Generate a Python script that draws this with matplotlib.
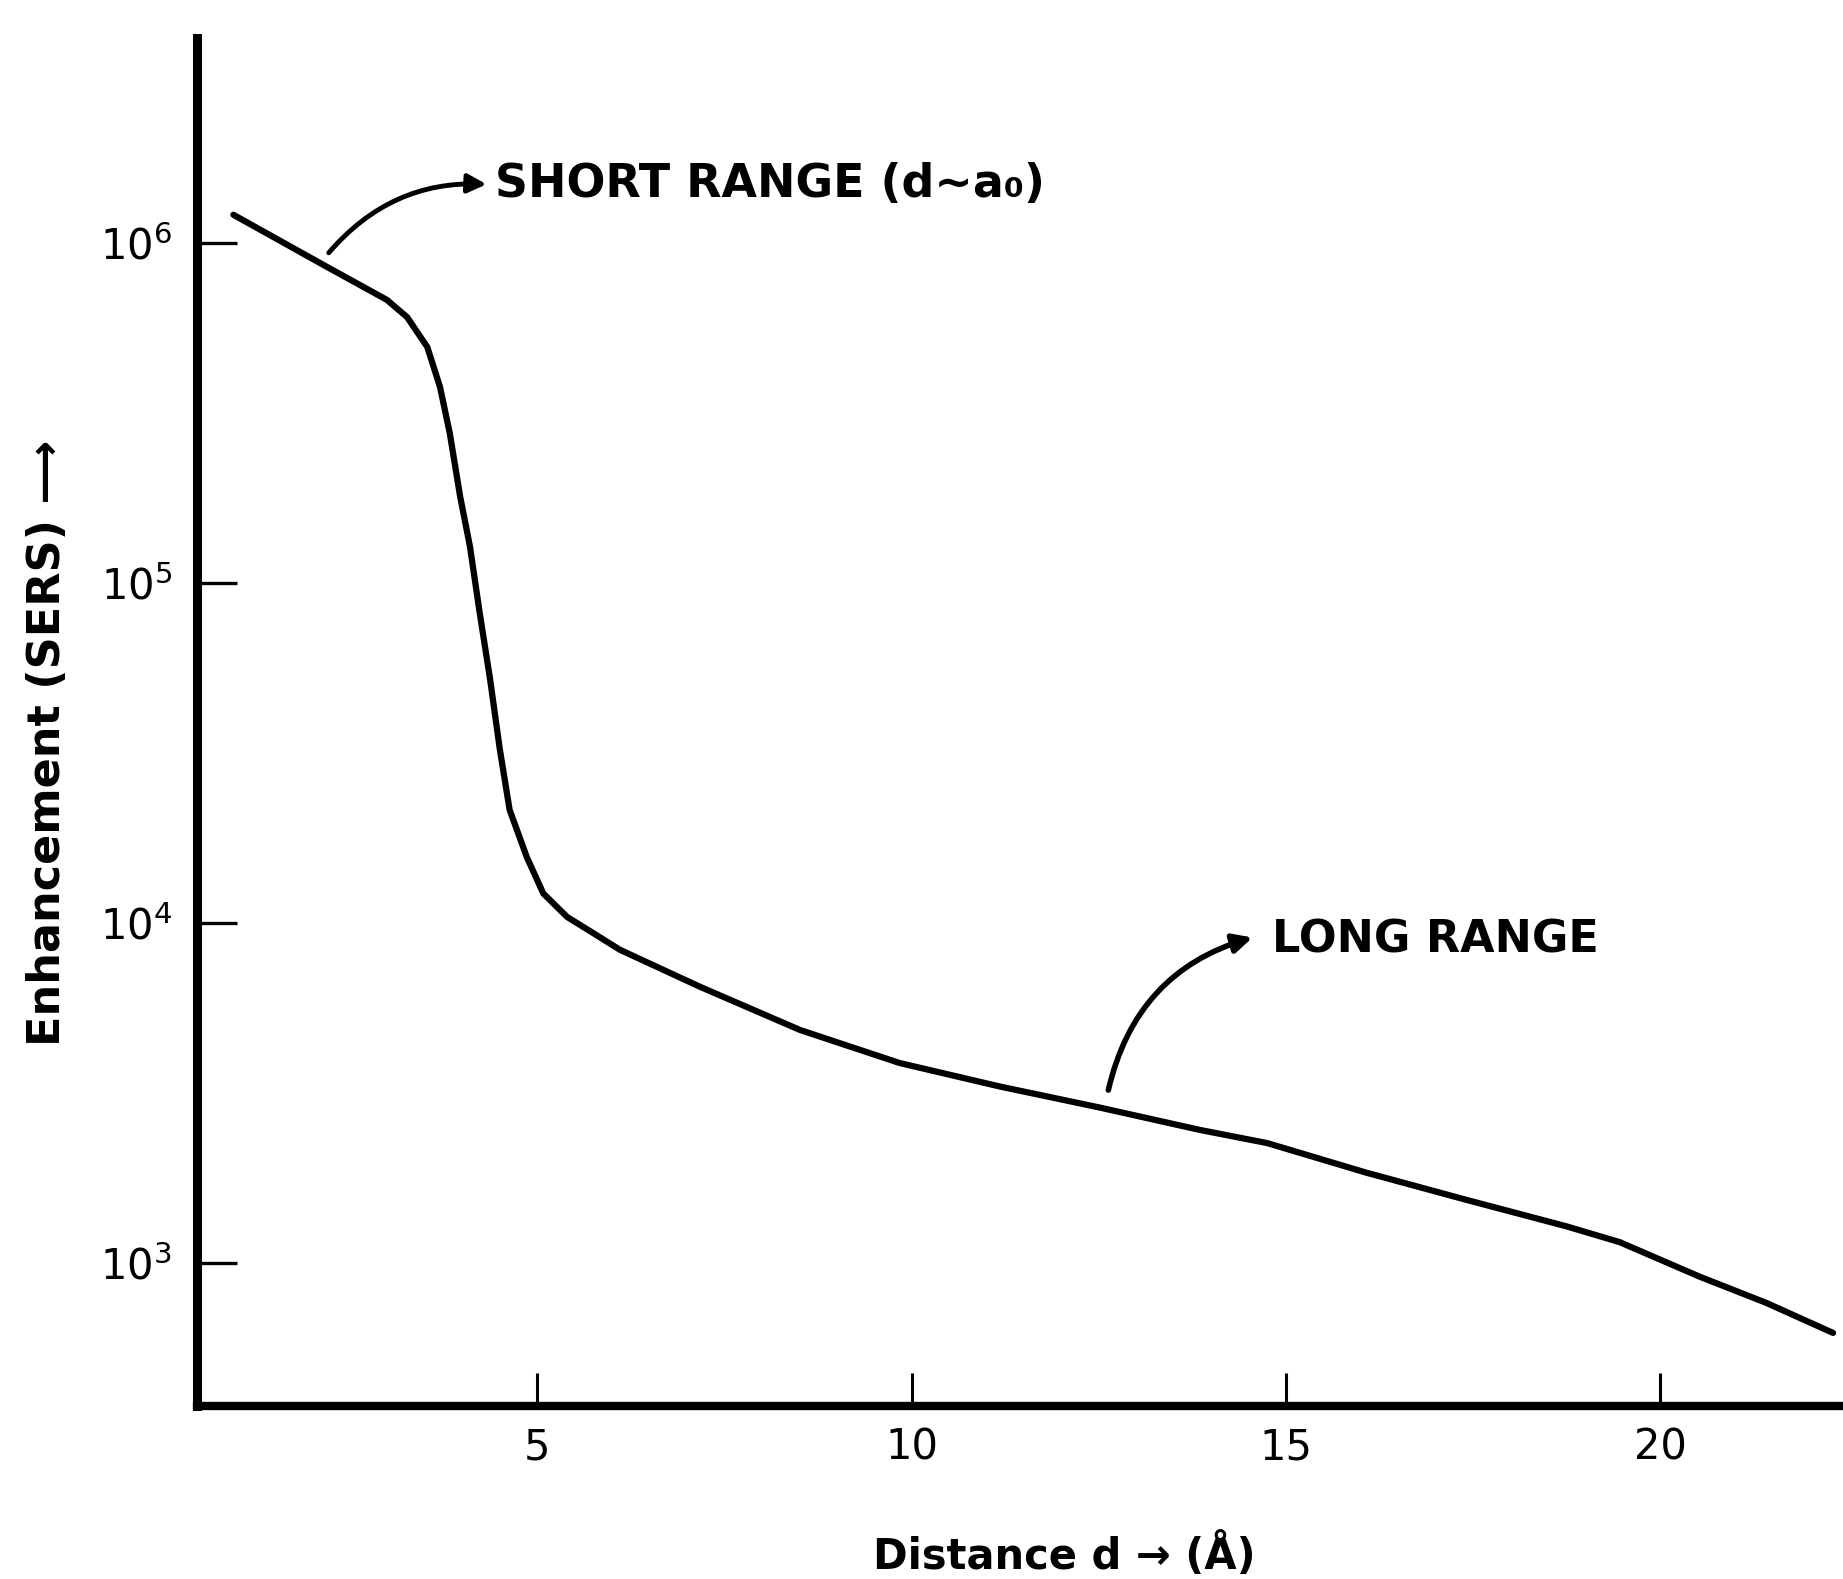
import numpy as np
import matplotlib
matplotlib.use("Agg")
from matplotlib import pyplot as plt
from matplotlib.patches import FancyArrowPatch

# distance d (Angstrom) and SERS enhancement
distance = [0.94, 2.19, 2.99, 3.26, 3.53, 3.70, 3.83, 3.97, 4.10, 4.23,
            4.37, 4.50, 4.63, 4.86, 5.08, 5.40, 5.74, 6.10, 7.17, 8.51,
            9.84, 11.18, 12.52, 13.85, 14.75, 16.08, 17.42, 18.75, 19.46,
            20.53, 21.42, 22.31]
enhancement = [1.21e6, 8.5e5, 6.8e5, 6.05e5, 4.94e5, 3.77e5, 2.76e5, 1.79e5,
               1.28e5, 8.17e4, 5.19e4, 3.23e4, 2.15e4, 1.56e4, 1.22e4, 1.04e4,
               9.35e3, 8.34e3, 6.49e3, 4.84e3, 3.87e3, 3.30e3, 2.86e3, 2.46e3,
               2.25e3, 1.84e3, 1.53e3, 1.28e3, 1.15e3, 910, 762, 622]

x_ticks = [5, 10, 15, 20]
x_ticklabels = ["5", "10", "15", "20"]
y_ticks = [1e3, 1e4, 1e5, 1e6]
y_ticklabels = [r"$\mathregular{10^{3}}$", r"$\mathregular{10^{4}}$",
                r"$\mathregular{10^{5}}$", r"$\mathregular{10^{6}}$"]

plt.rcParams['font.family'] = ['DejaVu Sans']

fig = plt.figure(figsize=(18.43, 15.79), dpi=100)
ax = fig.add_axes([0.1069, 0.1096, 0.893, 0.8664])

ax.plot(distance, enhancement, color="k", lw=4.5,
        solid_capstyle="round", solid_joinstyle="round")

ax.set_yscale("log")
ax.set_xlim(0.454, 22.44)
ax.set_ylim(10**2.579, 10**6.603)

ax.set_xticks(x_ticks)
ax.set_xticklabels(x_ticklabels, fontsize=30)
ax.set_yticks(y_ticks)
ax.set_yticklabels(y_ticklabels, fontsize=30)
ax.yaxis.set_minor_locator(matplotlib.ticker.NullLocator())

ax.tick_params(axis="y", direction="in", length=29, width=2.4, pad=18)
ax.tick_params(axis="x", direction="in", length=24, width=2.2, pad=15)

for s in ["top", "right"]:
    ax.spines[s].set_visible(False)
ax.spines["left"].set_linewidth(6.5)
ax.spines["bottom"].set_linewidth(6.0)

ax.set_ylabel("Enhancement (SERS) \u27f6", fontsize=32, fontweight="bold")
ax.yaxis.set_label_coords(-0.0775, 0.485)
ax.set_xlabel("Distance d \u2192 (\u00c5)", fontsize=30, fontweight="bold")
ax.xaxis.set_label_coords(0.527, -0.093)

# annotation arrows
a1 = FancyArrowPatch((2.19, 9.22e5), (4.36, 1.486e6),
                     connectionstyle="arc3,rad=-0.25", arrowstyle="-|>",
                     mutation_scale=28, lw=3.5, color="k")
ax.add_patch(a1)
ax.text(4.43, 10**6.172, "SHORT RANGE (d\u223ca\u2080)", fontsize=33,
        fontweight="bold", ha="left", va="center")

a2 = FancyArrowPatch((12.62, 3162), (14.59, 9100),
                     connectionstyle="arc3,rad=-0.3", arrowstyle="-|>",
                     mutation_scale=28, lw=4, color="k")
ax.add_patch(a2)
ax.text(14.81, 10**3.95, "LONG RANGE", fontsize=32,
        fontweight="bold", ha="left", va="center")

fig.savefig("out.png", dpi=100)
